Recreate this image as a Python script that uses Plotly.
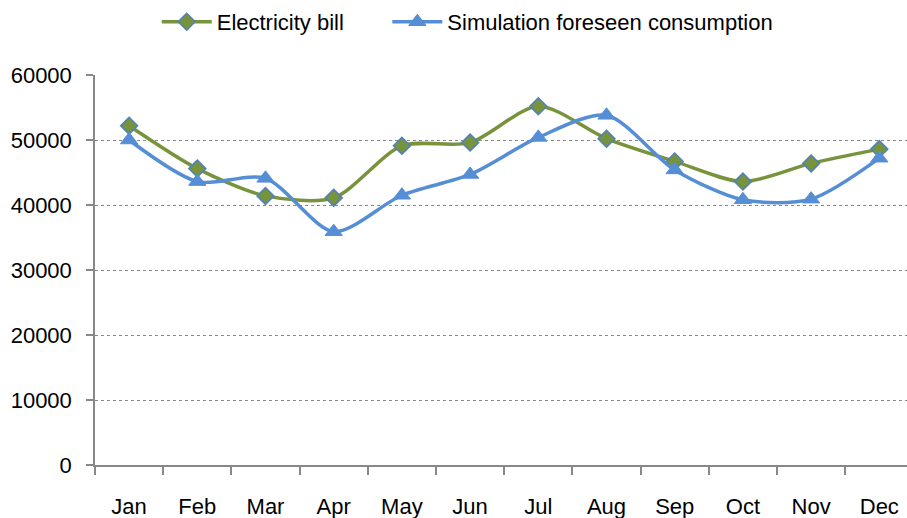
import plotly.graph_objects as go

months = ["Jan", "Feb", "Mar", "Apr", "May", "Jun", "Jul", "Aug", "Sep", "Oct", "Nov", "Dec"]
electricity_bill = [52200, 45600, 41400, 41100, 49100, 49600, 55200, 50200, 46700, 43600, 46400, 48600]
simulation = [50000, 43600, 44100, 35900, 41500, 44700, 50400, 53800, 45400, 40800, 40900, 47200]
y_ticks = [0, 10000, 20000, 30000, 40000, 50000, 60000]

FONT = "Liberation Sans Narrow, Arial Narrow, Liberation Sans, Arial"
GREEN = "#77933C"
BLUE = "#558ED5"

fig = go.Figure()
fig.add_trace(go.Scatter(
    x=months, y=electricity_bill, name="Electricity bill", legend="legend",
    mode="lines+markers", line=dict(color=GREEN, width=3.5, shape="spline", smoothing=0.8),
    marker=dict(symbol="diamond", size=13, color=GREEN, line=dict(color="#4F81BD", width=1.5)),
))
fig.add_trace(go.Scatter(
    x=months, y=simulation, name="Simulation foreseen consumption", legend="legend2",
    mode="lines+markers", line=dict(color=BLUE, width=3.5, shape="spline", smoothing=0.8),
    marker=dict(symbol="triangle-up", size=15, color=BLUE, line=dict(color=BLUE, width=1)),
))

legend_common = dict(orientation="h", xanchor="left", y=1.136, yanchor="middle",
                     font=dict(family=FONT, size=22), itemwidth=50,
                     bgcolor="rgba(0,0,0,0)")

fig.update_layout(
    width=907, height=518,
    margin=dict(l=95, r=0, t=75, b=53, autoexpand=False),
    paper_bgcolor="white", plot_bgcolor="white",
    font=dict(family=FONT, size=22, color="black"),
    showlegend=True,
    legend=dict(x=0.076, **legend_common),
    legend2=dict(x=0.36, **legend_common),
    xaxis=dict(
        type="category", range=[-0.5, 11.406], showline=True, linecolor="#888888", linewidth=1.5,
        ticks="outside", tickson="boundaries", ticklen=8, tickcolor="#888888", tickwidth=1.5,
        showgrid=False, ticklabelstandoff=21, tickfont=dict(family=FONT, size=22),
        automargin=False,
    ),
    yaxis=dict(
        range=[0, 60000], tickvals=y_ticks, ticktext=[str(v) for v in y_ticks],
        showline=True, linecolor="#888888", linewidth=1.5,
        ticks="outside", ticklen=7, tickcolor="#888888", tickwidth=1.5,
        showgrid=True, gridcolor="#888888", griddash="dot", gridwidth=1,
        zeroline=False, ticklabelstandoff=10, tickfont=dict(family=FONT, size=22),
        automargin=False,
    ),
)

fig.write_html("out.html", config={"displayModeBar": False},
               post_script="document.body.style.margin='0';document.body.style.overflow='hidden';")
